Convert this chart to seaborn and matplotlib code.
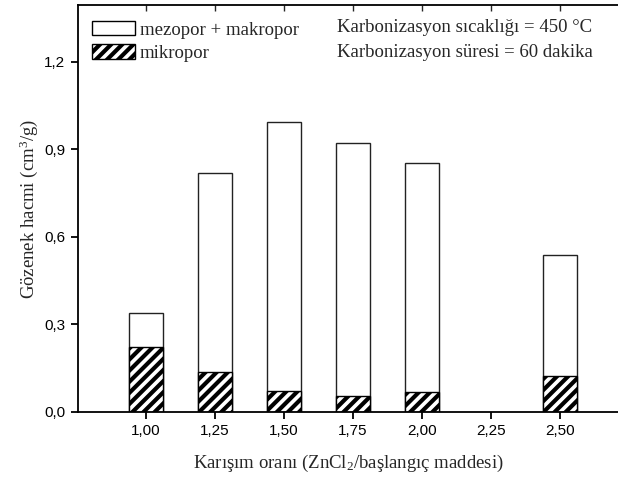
import matplotlib
matplotlib.use("Agg")
import matplotlib.pyplot as plt
from matplotlib.patches import Patch
import seaborn as sns
import pandas as pd

# Data
ratios = [1.00, 1.25, 1.50, 1.75, 2.00, 2.50]
total_volume = [0.340, 0.820, 0.994, 0.921, 0.855, 0.538]
micro_volume = [0.224, 0.138, 0.072, 0.055, 0.070, 0.125]
xtick_vals = [1.00, 1.25, 1.50, 1.75, 2.00, 2.25, 2.50]
xtick_labels = ["1,00", "1,25", "1,50", "1,75", "2,00", "2,25", "2,50"]
ytick_vals = [0.0, 0.3, 0.6, 0.9, 1.2]
ytick_labels = ["0,0", "0,3", "0,6", "0,9", "1,2"]

df = pd.DataFrame({"ratio": ratios, "total": total_volume, "micro": micro_volume})

sns.set_style("ticks")
plt.rcParams["font.family"] = ["Liberation Sans", "DejaVu Sans"]
plt.rcParams["mathtext.fontset"] = "custom"
plt.rcParams["mathtext.rm"] = "Liberation Serif"
plt.rcParams["mathtext.it"] = "Liberation Serif:italic"
plt.rcParams["hatch.linewidth"] = 3.0

fig = plt.figure(figsize=(6.18, 4.83), dpi=100)
ax = fig.add_axes([0.1262, 0.147, 0.8738, 0.8427])

sns.barplot(data=df, x="ratio", y="total", native_scale=True, width=0.48,
            color="white", edgecolor="#222222", linewidth=1.0, errorbar=None,
            saturation=1, ax=ax)
sns.barplot(data=df, x="ratio", y="micro", native_scale=True, width=0.48,
            color="white", edgecolor="black", linewidth=1.0, errorbar=None,
            saturation=1, hatch="///", ax=ax)

ax.set_xlim(0.7536, 2.71)
ax.set_ylim(0, 1.395)
ax.set_xticks(xtick_vals)
ax.set_xticklabels(xtick_labels, fontsize=11)
ax.set_yticks(ytick_vals)
ax.set_yticklabels(ytick_labels, fontsize=11)

for s in ["left", "bottom", "top"]:
    ax.spines[s].set_linewidth(1.3)
    ax.spines[s].set_color("black")
ax.spines["right"].set_visible(False)
ax.tick_params(axis="both", direction="out", length=5, width=1.3, colors="black", pad=4)
# top ticks pointing inward
secx = ax.secondary_xaxis("top")
secx.set_xticks(xtick_vals)
secx.set_xticklabels([])
secx.tick_params(direction="in", length=4, width=1.0)
secx.spines["top"].set_visible(False)
ax.tick_params(axis="x", top=False)

serif = ["Liberation Serif", "DejaVu Serif"]
ax.set_xlabel("Karışım oranı (ZnCl$_2$/başlangıç maddesi)", fontsize=13.5,
              family=serif, labelpad=10)
ax.set_ylabel("Gözenek hacmi (cm$^3$/g)", fontsize=13.5, family=serif, labelpad=3)

handles = [Patch(facecolor="white", edgecolor="black", linewidth=1.0),
           Patch(facecolor="white", edgecolor="black", linewidth=1.0, hatch="///")]
ax.legend(handles, ["mezopor + makropor", "mikropor"], loc="upper left",
          bbox_to_anchor=(0.0, 0.995), frameon=False,
          prop={"family": serif, "size": 13.5}, handlelength=2.3,
          handleheight=0.8, handletextpad=0.25, labelspacing=0.3,
          borderaxespad=0.35)

ax.text(0.953, 0.965, "Karbonizasyon sıcaklığı = 450 °C\nKarbonizasyon süresi = 60 dakika",
        transform=ax.transAxes, ha="right", va="top", fontsize=13.5,
        family=serif, linespacing=1.6)

fig.savefig("out.png", dpi=100)
